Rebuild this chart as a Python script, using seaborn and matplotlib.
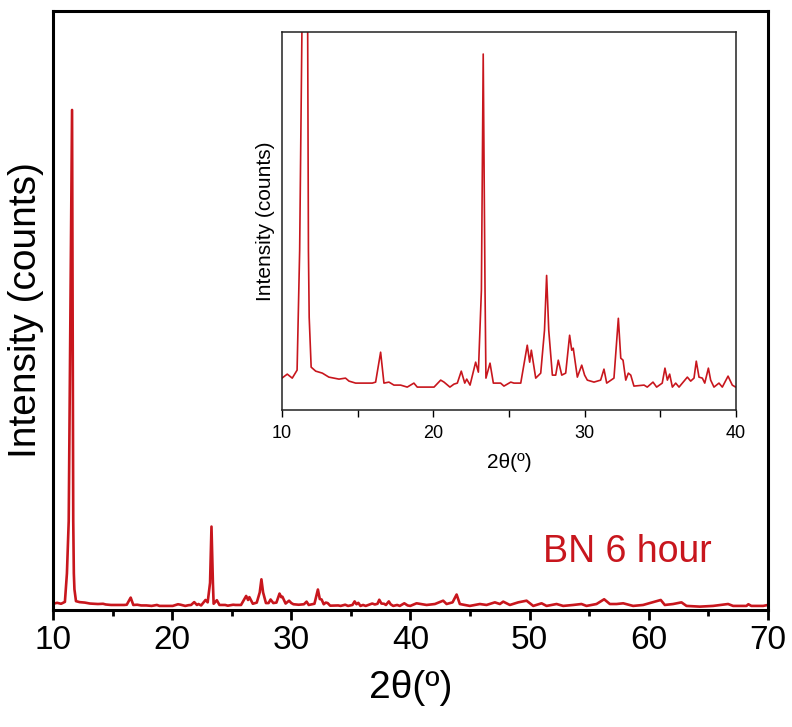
## XRD pattern of BN 6 hour sample, with zoomed inset

import numpy as np
import pandas as pd
import seaborn as sns
import matplotlib.pyplot as plt
from matplotlib.ticker import MultipleLocator

# pattern (2theta in degrees, intensity in counts)
two_theta = [10.0, 10.35, 10.68, 11.0, 11.17, 11.32, 11.6, 11.7, 11.75, 11.8,
             11.93, 12.23, 12.67, 13.1, 13.77, 14.2, 14.43, 14.87, 15.97, 16.19,
             16.52, 16.74, 17.07, 17.4, 17.84, 18.28, 18.72, 18.94, 19.5, 20.05,
             20.49, 20.71, 21.1, 21.37, 21.59, 21.85, 22.08, 22.21, 22.43, 22.8,
             22.98, 23.18, 23.3, 23.42, 23.48, 23.75, 23.97, 24.45, 24.67, 25.12,
             25.33, 25.78, 26.21, 26.37, 26.48, 26.77, 27.1, 27.35, 27.49, 27.63,
             27.87, 28.09, 28.26, 28.49, 28.75, 29.01, 29.15, 29.25, 29.52, 29.81,
             30.0, 30.18, 30.62, 31.06, 31.28, 31.46, 31.94, 32.23, 32.39, 32.54,
             32.72, 32.89, 33.05, 33.26, 33.93, 34.14, 34.52, 34.76, 35.13, 35.31,
             35.47, 35.62, 35.8, 36.02, 36.24, 36.79, 37.01, 37.23, 37.38, 37.56,
             37.78, 37.94, 38.18, 38.33, 38.55, 38.88, 39.1, 39.48, 39.76, 39.98,
             40.51, 41.35, 42.05, 42.74, 43.03, 43.53, 43.87, 44.14, 44.98, 45.82,
             46.38, 47.08, 47.5, 47.78, 48.34, 49.04, 49.74, 50.3, 51.0, 51.42,
             52.26, 52.81, 53.65, 54.35, 54.77, 55.61, 56.25, 56.73, 57.29, 57.85,
             58.68, 59.52, 61.0, 61.34, 62.04, 62.74, 63.16, 64.28, 65.39, 66.65,
             67.07, 68.19, 68.35, 68.6, 69.59, 70.0]
intensity = [32, 36, 32, 40, 160, 380, 2111, 380, 160, 93,
             43, 39, 37, 33, 31, 32, 29, 27, 27, 28,
             58, 27, 28, 25, 25, 23, 27, 23, 23, 23,
             30, 28, 23, 26, 27, 39, 27, 31, 25, 48,
             38, 120, 357, 120, 32, 47, 27, 27, 24, 28,
             27, 27, 65, 48, 60, 32, 37, 80, 135, 80,
             35, 35, 50, 35, 37, 75, 60, 62, 33, 45,
             35, 30, 28, 30, 41, 27, 32, 92, 52, 50,
             30, 37, 35, 24, 25, 23, 28, 23, 27, 42,
             30, 36, 23, 27, 23, 33, 29, 32, 49, 33,
             32, 27, 42, 30, 23, 27, 23, 34, 25, 23,
             34, 27, 31, 45, 31, 38, 71, 31, 23, 31,
             27, 38, 31, 41, 27, 38, 45, 23, 34, 23,
             31, 23, 27, 31, 23, 31, 51, 31, 31, 34,
             23, 27, 48, 27, 31, 38, 23, 20, 23, 31,
             23, 23, 30, 23, 23, 27]

data = pd.DataFrame({'two_theta': two_theta, 'intensity': intensity})
inset_data = data[data['two_theta'] <= 40]

red = '#c8161d'

sns.set_style('white')
plt.rcParams['font.family'] = ['Liberation Sans', 'DejaVu Sans']
plt.rcParams['text.color'] = 'black'
plt.rcParams['axes.labelcolor'] = 'black'
plt.rcParams['xtick.color'] = 'black'

fig = plt.figure(figsize=(7.92, 7.27), dpi=100)
ax = fig.add_axes([0.0669, 0.161, 0.9028, 0.824])

sns.lineplot(data=data, x='two_theta', y='intensity', ax=ax, color=red,
             linewidth=1.9, estimator=None)
ax.set_xlim(10, 70)
ax.set_ylim(6, 2528)
ax.set_yticks([])
ax.xaxis.set_major_locator(MultipleLocator(10))
ax.xaxis.set_minor_locator(MultipleLocator(5))
ax.tick_params(axis='x', which='major', direction='out', length=7, width=2,
               labelsize=24, pad=4, bottom=True)
ax.tick_params(axis='x', which='minor', direction='out', length=4.5, width=2,
               bottom=True)
for s in ax.spines.values():
    s.set_linewidth(2.2)
    s.set_color('black')
ax.set_xlabel('2θ(º)', fontsize=28)
ax.set_ylabel('Intensity (counts)', fontsize=28)
ax.xaxis.set_label_coords(0.5, -0.10)
ax.yaxis.set_label_coords(-0.012, 0.5)
ax.text(0.685, 0.08, 'BN 6 hour', transform=ax.transAxes, color=red,
        fontsize=27, ha='left', va='baseline')

# inset
ins = fig.add_axes([0.356, 0.436, 0.5732, 0.5198])
sns.lineplot(data=inset_data, x='two_theta', y='intensity', ax=ins, color=red,
             linewidth=1.2, estimator=None)
ins.set_xlim(10, 40)
ins.set_ylim(0, 379)
ins.set_yticks([])
ins.xaxis.set_major_locator(MultipleLocator(10))
ins.xaxis.set_minor_locator(MultipleLocator(5))
ins.tick_params(axis='x', which='major', direction='out', length=5, width=1,
                labelsize=13, pad=6, bottom=True)
ins.tick_params(axis='x', which='minor', direction='out', length=5, width=1,
                bottom=True)
for s in ins.spines.values():
    s.set_linewidth(1.1)
    s.set_color('#222222')
ins.set_xlabel('2θ(º)', fontsize=15)
ins.set_ylabel('Intensity (counts)', fontsize=15)
ins.xaxis.set_label_coords(0.5, -0.115)
ins.yaxis.set_label_coords(-0.015, 0.5)

plt.savefig('out.png', dpi=100)
